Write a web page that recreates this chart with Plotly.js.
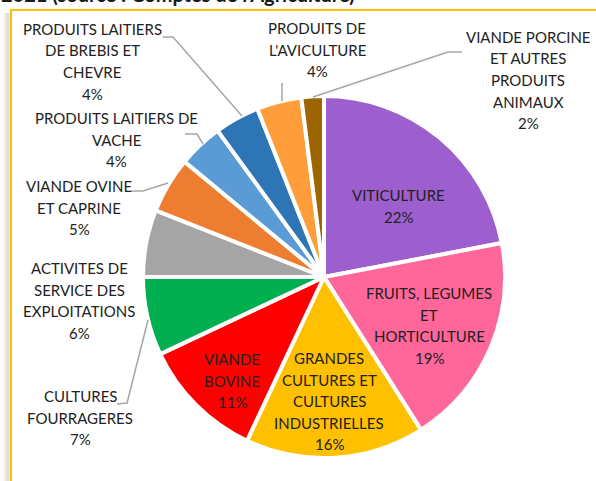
<!DOCTYPE html>
<html>
<head>
<meta charset="utf-8">
<script src="https://cdn.plot.ly/plotly-3.0.1.min.js"></script>
<style>html,body{margin:0;padding:0;background:#fff;}#chart{width:596px;height:481px;}</style>
</head>
<body>
<div id="chart"></div>
<script>
// ---- data ----
const labels = [
  "VITICULTURE",
  "FRUITS, LEGUMES<br>ET<br>HORTICULTURE",
  "GRANDES<br>CULTURES ET<br>CULTURES<br>INDUSTRIELLES",
  "VIANDE<br>BOVINE",
  "CULTURES<br>FOURRAGERES",
  "ACTIVITES DE<br>SERVICE DES<br>EXPLOITATIONS",
  "VIANDE OVINE<br>ET CAPRINE",
  "PRODUITS LAITIERS DE<br>VACHE",
  "PRODUITS LAITIERS<br>DE BREBIS ET<br>CHEVRE",
  "PRODUITS DE<br>L'AVICULTURE",
  "VIANDE PORCINE<br>ET AUTRES<br>PRODUITS<br>ANIMAUX"
];
const values = [22, 19, 16, 11, 7, 6, 5, 4, 4, 4, 2];
const colors = ["#9C5FCD", "#FF6699", "#FFC000", "#FF0000", "#00B050", "#A5A5A5",
                "#ED7D31", "#5B9BD5", "#2E75B6", "#FF9D3A", "#9C6500"];
const titleText = "2021 (source : Comptes de l'Agriculture)";

// ---- layout helpers (pixel positions of label blocks: center x, first line y) ----
const W = 596, H = 481;
const labelPos = [
  [398, 195], [429, 293], [329, 358], [232, 359], [80, 396], [79, 268],
  [79, 186], [116, 118], [92, 29], [317, 28], [528, 37]
];
const leaderLines = [
  null, null, null, null,
  [[148,320],[127,403],[117,404]],
  null,
  [[132,191],[143,191],[168,183]],
  [[185,134],[197,134],[203,144]],
  [[163,37],[173,37],[242,116]],
  [[282,83],[282,101]],
  [[313,97],[448,52],[462,52]]
];
const px = x => x / W, py = y => 1 - y / H;
const LINE = 21.5;
const total = values.reduce((a, b) => a + b, 0);
const FONT = "Lato, 'Open Sans', sans-serif";

const annotations = [];
labels.forEach((lab, i) => {
  const lines = lab.split("<br>").concat([Math.round(values[i] / total * 100) + "%"]);
  lines.forEach((t, k) => {
    annotations.push({
      text: t, showarrow: false, xref: "paper", yref: "paper",
      x: px(labelPos[i][0]), y: py(labelPos[i][1] + k * LINE),
      xanchor: "center", yanchor: "middle",
      font: {family: FONT, size: 15, color: "#222222"}
    });
  });
});
annotations.push({
  text: "<b>" + titleText + "</b>", showarrow: false, xref: "paper", yref: "paper",
  x: px(-1), y: py(-6), xanchor: "left", yanchor: "middle",
  font: {family: FONT, size: 20, color: "#1a1a1a"}
});

const shapes = [];
leaderLines.forEach(pts => {
  if (!pts) return;
  const d = pts.map((p, k) => (k ? "L" : "M") + px(p[0]).toFixed(5) + "," + py(p[1]).toFixed(5)).join(" ");
  shapes.push({type: "path", xref: "paper", yref: "paper", path: d,
               line: {color: "#A6A6A6", width: 1.5}});
});
// frame shadow + gold frame
const shadow = ["#f4f4f4", "#ececec", "#e2e2e2", "#d8d8d8", "#d0d0d0", "#d6d6d6"];
shadow.forEach((c, k) => {
  shapes.push({type: "line", xref: "paper", yref: "paper",
    x0: px(4 + k), x1: px(4 + k), y0: py(13), y1: py(H + 2), line: {color: c, width: 1}});
});
shapes.push({type: "line", xref: "paper", yref: "paper", x0: px(11), x1: px(11),
  y0: py(9), y1: py(H + 2), line: {color: "#FFC000", width: 2}});
shapes.push({type: "line", xref: "paper", yref: "paper", x0: px(10), x1: px(W + 2),
  y0: py(10), y1: py(10), line: {color: "#FFC000", width: 2}});

const cx = 324, cy = 277, r = 181;
const trace = {
  type: "pie",
  labels: labels,
  values: values,
  sort: false,
  direction: "clockwise",
  rotation: 0,
  marker: {colors: colors, line: {color: "#ffffff", width: 4}},
  textinfo: "none",
  hoverinfo: "skip",
  showlegend: false,
  domain: {x: [px(cx - r), px(cx + r)], y: [py(cy + r), py(cy - r)]}
};

Plotly.newPlot("chart", [trace], {
  width: W, height: H,
  margin: {l: 0, r: 0, t: 0, b: 0},
  paper_bgcolor: "#ffffff",
  showlegend: false,
  annotations: annotations,
  shapes: shapes
}, {staticPlot: true, displayModeBar: false});
</script>
</body>
</html>
